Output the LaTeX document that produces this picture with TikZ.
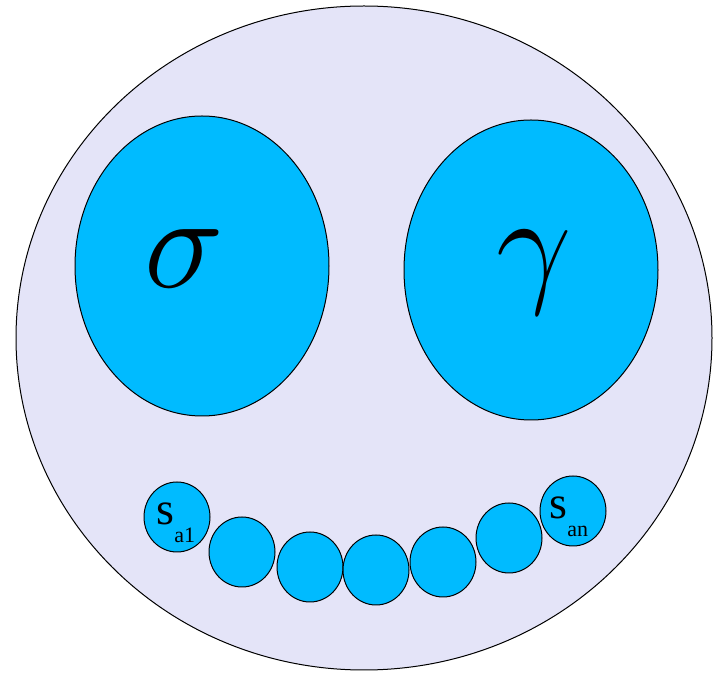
\documentclass[tikz,border=0pt]{standalone}
\usepackage{fontspec}
\usepackage{xcolor}
\usetikzlibrary{shapes.geometric}
\newfontfamily\timesfont{Liberation Serif}
\definecolor{facelilac}{HTML}{E4E4F8}
\definecolor{eyeblue}{HTML}{00BBFF}

\newcommand{\slabel}[1]{\timesfont\fontsize{23}{23}\selectfont s\raisebox{-9pt}{\fontsize{11}{11}\selectfont #1}}
\newcommand{\biggreek}[1]{\scalebox{2.7}{\Huge$#1$}}

\begin{document}
\begin{tikzpicture}[x=0.5pt, y=-0.5pt, line join=round,
    blob/.style={ellipse, draw=black, line width=0.5pt, fill=eyeblue, inner sep=0pt},
    eye/.style={blob, minimum width=127pt, minimum height=150pt},
    tooth/.style={blob, minimum width=33pt, minimum height=35pt},
    greek/.style={inner sep=0pt}]
  \useasboundingbox (0,0) rectangle (713,673);
  % the face
  \node[ellipse, draw=black, line width=0.5pt, fill=facelilac, inner sep=0pt,
        minimum width=348pt, minimum height=332pt] (face) at (364,338) {};
  % eyes
  \node[eye] (lefteye)  at (202,266) {};
  \node[eye] (righteye) at (531,270) {};
  \node[greek] (sigma) at (184,259) {\biggreek{\sigma}};
  \node[greek] (gamma) at (534,273) {\biggreek{\gamma}};
  % mouth
  \foreach \n/\x/\y in {1/177/517, 2/242/552, 3/310/567, 4/376/570,
                        5/443/562, 6/509/538, 7/573/511}
    \node[tooth] (t\n) at (\x,\y) {};
  \node[anchor=base west, inner sep=0pt] (sa1) at (156,525) {\slabel{a1}};
  \node[anchor=base west, inner sep=0pt] (san) at (549,519) {\slabel{an}};
\end{tikzpicture}
\end{document}
